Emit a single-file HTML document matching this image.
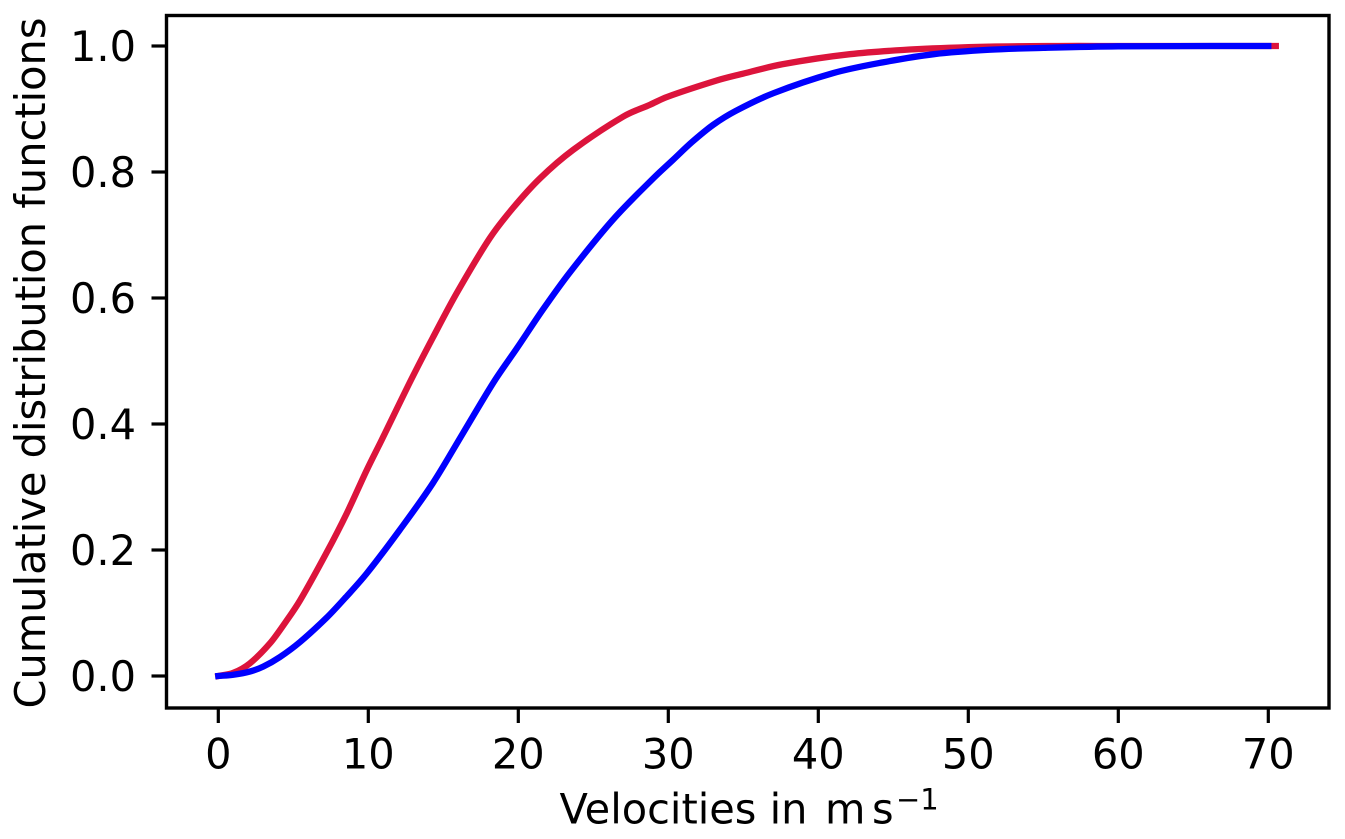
<!DOCTYPE html>
<html lang="en">
<head>
<meta charset="utf-8">
<title>Cumulative distribution functions of velocities</title>
<style>
html,body{margin:0;padding:0;background:#fff;width:1345px;height:839px;overflow:hidden}
svg{display:block}
text{font-family:"DejaVu Sans",sans-serif;font-size:41.5px;fill:#000}
</style>
</head>
<body>
<svg id="chart" width="1345" height="839" viewBox="0 0 1345 839" xmlns="http://www.w3.org/2000/svg">
  <g id="ticks"></g>
  <g id="series"></g>
  <rect x="166.5" y="15.5" width="1162.5" height="692.5" fill="none" stroke="#000" stroke-width="3.4"/>
  <text transform="translate(45,363) rotate(-90)" text-anchor="middle">Cumulative distribution functions</text>
  <text y="823.5"><tspan x="559.5">Velocities in</tspan><tspan x="825">m</tspan><tspan x="872">s</tspan><tspan x="896" dy="-14" style="font-size:29px">−1</tspan></text>
</svg>
<script>
const xTicks = [0, 10, 20, 30, 40, 50, 60, 70];
const yTicks = [0.0, 0.2, 0.4, 0.6, 0.8, 1.0];
const yTickLabels = ["0.0", "0.2", "0.4", "0.6", "0.8", "1.0"];

const redVelocities = [0, 1, 2.1, 3.45, 4.5, 5.45, 7.2, 8.56, 9.9, 10.9, 12.85, 14.3, 15.9, 18.1, 19.65, 21.45, 23.65, 27, 28.8, 29.9, 33.2, 34.8, 37.6, 42.1, 46.6, 51.4, 56, 60, 70.5];
const redValues = [0, 0.005, 0.02, 0.052, 0.086, 0.12, 0.195, 0.258, 0.327, 0.375, 0.47, 0.537, 0.608, 0.695, 0.743, 0.79, 0.835, 0.888, 0.907, 0.919, 0.945, 0.955, 0.971, 0.987, 0.995, 0.999, 1, 1, 1];

const blueVelocities = [0, 1, 2.1, 3, 4.1, 5.45, 7.2, 8.5, 9.9, 12.1, 14.3, 16.3, 18.4, 19.9, 21.65, 23.45, 26.3, 29, 30.3, 31.6, 33, 34.5, 37, 41, 44.3, 47.7, 51.4, 55, 60, 70];
const blueValues = [0, 0.002, 0.007, 0.015, 0.03, 0.054, 0.092, 0.125, 0.163, 0.232, 0.306, 0.385, 0.468, 0.52, 0.582, 0.641, 0.724, 0.79, 0.819, 0.848, 0.875, 0.897, 0.925, 0.957, 0.974, 0.987, 0.994, 0.997, 0.9995, 1];

const NS = 'http://www.w3.org/2000/svg';
function xScale(v) { return 218.3 + v * 15; }
function yScale(v) { return 676 - v * 630; }

const tickGroup = document.getElementById('ticks');
const seriesGroup = document.getElementById('series');

xTicks.forEach(function (t) {
  const px = xScale(t);
  const mark = document.createElementNS(NS, 'line');
  
  
  mark.setAttribute('x1', px);
  mark.setAttribute('x2', px);
  mark.setAttribute('y1', 708);
  mark.setAttribute('y2', 723);
  mark.setAttribute('stroke', '#000');
  mark.setAttribute('stroke-width', '3.2');
  tickGroup.appendChild(mark);
  const label = document.createElementNS(NS, 'text');
  
  
  label.setAttribute('x', px);
  label.setAttribute('y', 768.5);
  label.setAttribute('text-anchor', 'middle');
  label.textContent = String(t);
  tickGroup.appendChild(label);
});

yTicks.forEach(function (t, i) {
  const py = yScale(t);
  const mark = document.createElementNS(NS, 'line');
  
  
  mark.setAttribute('x1', 151.5);
  mark.setAttribute('x2', 166);
  mark.setAttribute('y1', py);
  mark.setAttribute('y2', py);
  mark.setAttribute('stroke', '#000');
  mark.setAttribute('stroke-width', '3.2');
  tickGroup.appendChild(mark);
  const label = document.createElementNS(NS, 'text');
  
  
  label.setAttribute('x', 136);
  label.setAttribute('y', py + 15);
  label.setAttribute('text-anchor', 'end');
  label.textContent = yTickLabels[i];
  tickGroup.appendChild(label);
});

function pathFor(xs, ys) {
  const px = xs.map(xScale);
  const py = ys.map(yScale);
  const n = px.length;
  const slope = [];
  for (let i = 0; i < n; i++) {
    const a = Math.max(i - 1, 0);
    const b = Math.min(i + 1, n - 1);
    slope.push((py[b] - py[a]) / (px[b] - px[a]));
  }
  let d = 'M' + px[0].toFixed(2) + ' ' + py[0].toFixed(2);
  for (let i = 0; i < n - 1; i++) {
    const h = (px[i + 1] - px[i]) / 3;
    d += ' C' + (px[i] + h).toFixed(2) + ' ' + (py[i] + slope[i] * h).toFixed(2) +
         ' ' + (px[i + 1] - h).toFixed(2) + ' ' + (py[i + 1] - slope[i + 1] * h).toFixed(2) +
         ' ' + px[i + 1].toFixed(2) + ' ' + py[i + 1].toFixed(2);
  }
  return d;
}

const redLine = document.createElementNS(NS, 'path');


redLine.setAttribute('d', pathFor(redVelocities, redValues));
redLine.setAttribute('fill', 'none');
redLine.setAttribute('stroke', '#dc143c');
redLine.setAttribute('stroke-width', '6.3');
redLine.setAttribute('stroke-linecap', 'square');
redLine.setAttribute('stroke-linejoin', 'round');
seriesGroup.appendChild(redLine);

const blueLine = document.createElementNS(NS, 'path');


blueLine.setAttribute('d', pathFor(blueVelocities, blueValues));
blueLine.setAttribute('fill', 'none');
blueLine.setAttribute('stroke', '#0000ff');
blueLine.setAttribute('stroke-width', '6.3');
blueLine.setAttribute('stroke-linecap', 'square');
blueLine.setAttribute('stroke-linejoin', 'round');
seriesGroup.appendChild(blueLine);
</script>
</body>
</html>
